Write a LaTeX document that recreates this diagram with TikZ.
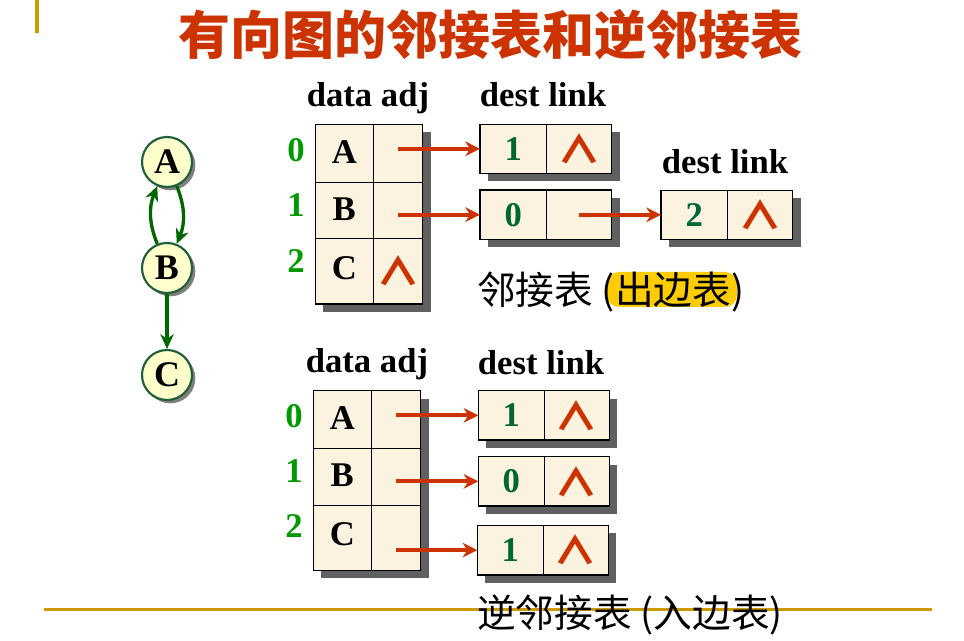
\documentclass[tikz,border=0pt]{standalone}
\usepackage{fontspec}
\usepackage{graphicx}
\setmainfont{Liberation Serif}
\newfontfamily\cjk{Noto Sans CJK SC}
\usetikzlibrary{arrows.meta,shadows,backgrounds}
\definecolor{goldc}{RGB}{204,153,0}
\definecolor{titlec}{RGB}{204,51,0}
\definecolor{redc}{RGB}{204,51,0}
\definecolor{idxc}{RGB}{0,153,0}
\definecolor{destc}{RGB}{0,102,51}
\definecolor{gedge}{RGB}{0,102,0}
\definecolor{gborder}{RGB}{30,94,58}
\definecolor{gfill}{RGB}{255,255,204}
\definecolor{cellc}{RGB}{251,242,223}
\definecolor{shadc}{RGB}{96,96,96}
\definecolor{hlc}{RGB}{255,204,0}
\newcommand{\nilmark}{{\cjk\fontsize{30}{32}\selectfont\color{redc}\scalebox{1.1}[0.95]{∧}}}
\newcommand{\dnum}[1]{{\fontsize{26}{30}\selectfont\bfseries\color{destc}#1}}
\newcommand{\up}[2]{\raisebox{#1pt}{#2}}
\newcommand{\cellat}[6]{\node[cellbox,minimum width={(#4-#2)*0.75pt},minimum height={(#5-#3)*0.75pt}] (#1) at ({(#2+#4)/2},{-(#3+#5)/2}) {#6};}
\begin{document}
\begin{tikzpicture}[x=0.75pt,y=0.75pt,
  cellbox/.style={draw=black,line width=0.9pt,fill=cellc,inner sep=0pt,outer sep=0pt,
    font=\fontsize{26}{30}\selectfont\bfseries},
  gnode/.style={circle,draw=gborder,line width=1.6pt,fill=gfill,minimum size=37.5pt,inner sep=0pt,
    font=\fontsize{27}{30}\selectfont\bfseries,
    drop shadow={shadow xshift=2.5pt,shadow yshift=-2.5pt,fill=shadc,opacity=0.8}},
  garr/.style={draw=gedge,line width=2.5pt,-{Stealth[length=11pt,width=10pt,inset=3.5pt]}},
  rarr/.style={draw=redc,line width=3pt,-{Stealth[length=11pt,width=11pt,inset=3.5pt]}},
  idx/.style={anchor=base,text=idxc,font=\fontsize{26}{30}\selectfont\bfseries},
  hdr/.style={anchor=base,font=\fontsize{26}{30}\selectfont\bfseries},
  cjktext/.style={anchor=west,inner sep=0pt,font=\cjk\fontsize{29}{32}\selectfont},
  titlestyle/.style={text=titlec,font=\cjk\bfseries\fontsize{39}{42}\selectfont},
  shadowbox/.style={fill=shadc},
  decoline/.style={draw=goldc,line width=2.3pt}
]
\useasboundingbox (0,0) rectangle (964,-641);
% decorative lines
\draw[decoline] (37,0) -- (37,-33);
\draw[decoline] (44,-609.5) -- (932,-609.5);
% title
\node[titlestyle] (title) at (490,-35) {有向图的邻接表和逆邻接表};
% graph
\node[gnode] (A) at (167,-162) {A};
\node[gnode] (B) at (167,-268) {B};
\node[gnode] (C) at (167,-375) {C};
\draw[garr] (A.-68) to[bend left=22] (B.68);
\draw[garr] (B.112) to[bend left=22] (A.-112);
\draw[garr] (B.south) -- (C.north);
% ---------- upper adjacency list ----------
\node[hdr] (uhd) at (368,-106.7) {data adj};
\node[hdr] (uhl) at (543,-106.7) {dest link};
\node[hdr] (uhl2) at (725,-174) {dest link};
\node[idx] (ui0) at (296,-161.7) {0};
\node[idx] (ui1) at (296,-216.7) {1};
\node[idx] (ui2) at (296,-272.7) {2};
\cellat{u0d}{315.3}{124.3}{373.3}{182.3}{\up{2.3}{A}}
\cellat{u0a}{373.3}{124.3}{422.7}{182.3}{}
\cellat{u1d}{315.3}{182.3}{373.3}{238.3}{\up{1.5}{B}}
\cellat{u1a}{373.3}{182.3}{422.7}{238.3}{}
\cellat{u2d}{315.3}{238.3}{373.3}{304}{\up{4.8}{C}}
\cellat{u2a}{373.3}{238.3}{422.7}{304}{\nilmark}
\cellat{ua}{480}{124.3}{546.7}{173.3}{\dnum{1}}
\cellat{ual}{546.7}{124.3}{611.7}{173.3}{\nilmark}
\cellat{ub}{480}{190}{546.7}{239.3}{\dnum{0}}
\cellat{ubl}{546.7}{190}{611.7}{239.3}{}
\cellat{uc}{661}{190.3}{727.7}{239.3}{\dnum{2}}
\cellat{ucl}{727.7}{190.3}{792.7}{239.3}{\nilmark}
\draw[rarr] (u0a.center |- ua.west) -- (ua.west);
\draw[rarr] (u1a.center |- ub.west) -- (ub.west);
\draw[rarr] (ubl.center |- uc.west) -- (uc.west);
\fill[hlc,rounded corners=9pt] (607,-272) rectangle (737,-307);
\node[cjktext] (utext) at (477,-292) {邻接表 (出边表)};
% ---------- lower inverse adjacency list ----------
\node[hdr] (lhd) at (367,-373) {data adj};
\node[hdr] (lhl) at (541,-375) {dest link};
\node[idx] (li0) at (294,-428) {0};
\node[idx] (li1) at (294,-483) {1};
\node[idx] (li2) at (294,-537) {2};
\cellat{l0d}{313.3}{390.7}{371.3}{448.7}{\up{3}{A}}
\cellat{l0a}{371.3}{390.7}{420.7}{448.7}{}
\cellat{l1d}{313.3}{448.7}{371.3}{505.3}{\up{3}{B}}
\cellat{l1a}{371.3}{448.7}{420.7}{505.3}{}
\cellat{l2d}{313.3}{505.3}{371.3}{570.3}{\up{5.3}{C}}
\cellat{l2a}{371.3}{505.3}{420.7}{570.3}{}
\cellat{la}{478.3}{390.7}{544.3}{440}{\dnum{1}}
\cellat{lal}{544.3}{390.7}{609.3}{440}{\nilmark}
\cellat{lb}{478.3}{456.7}{544.3}{506}{\dnum{0}}
\cellat{lbl}{544.3}{456.7}{609.3}{506}{\nilmark}
\cellat{lc}{477.3}{525.3}{543.3}{575}{\dnum{1}}
\cellat{lcl}{543.3}{525.3}{608.3}{575}{\nilmark}
\draw[rarr] (l0a.center |- la.west) -- (la.west);
\draw[rarr] (l1a.center |- lb.west) -- (lb.west);
\draw[rarr] (l2a.center |- lc.west) -- (lc.west);
\node[cjktext] (ltext) at (477,-615) {逆邻接表 (入边表)};
% ---------- shadows ----------
\begin{pgfonlayer}{background}
\fill[shadowbox] ([shift={(8,-8)}]u0d.north west) rectangle ([shift={(8,-8)}]u2a.south east);
\fill[shadowbox] ([shift={(8,-8)}]ua.north west) rectangle ([shift={(8,-8)}]ual.south east);
\fill[shadowbox] ([shift={(8,-8)}]ub.north west) rectangle ([shift={(8,-8)}]ubl.south east);
\fill[shadowbox] ([shift={(8,-8)}]uc.north west) rectangle ([shift={(8,-8)}]ucl.south east);
\fill[shadowbox] ([shift={(8,-8)}]l0d.north west) rectangle ([shift={(8,-8)}]l2a.south east);
\fill[shadowbox] ([shift={(8,-8)}]la.north west) rectangle ([shift={(8,-8)}]lal.south east);
\fill[shadowbox] ([shift={(8,-8)}]lb.north west) rectangle ([shift={(8,-8)}]lbl.south east);
\fill[shadowbox] ([shift={(8,-8)}]lc.north west) rectangle ([shift={(8,-8)}]lcl.south east);
\end{pgfonlayer}
\end{tikzpicture}
\end{document}
